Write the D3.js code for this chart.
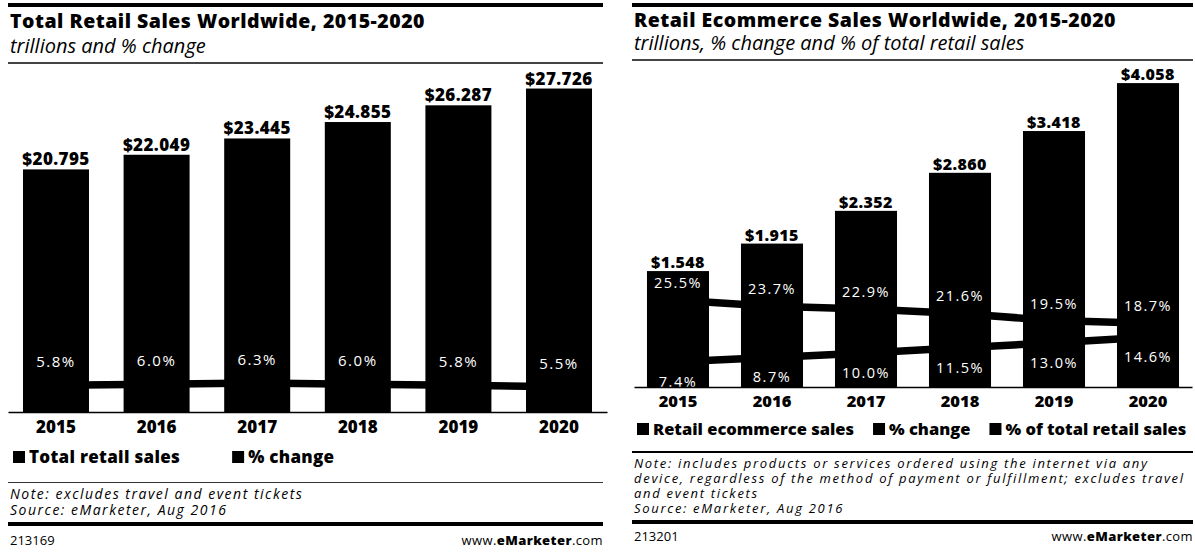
<!DOCTYPE html>
<html>
<head>
<meta charset="utf-8">
<script src="https://cdn.jsdelivr.net/npm/d3@7"></script>
<style>
  body { margin: 0; background: #fff; }
  text { font-family: "Open Sans", "DejaVu Sans", sans-serif; fill: #000; }
</style>
</head>
<body>
<svg id="chart" width="1195" height="554"></svg>
<script>
// ---- data ----
const years = ["2015", "2016", "2017", "2018", "2019", "2020"];

// Total retail sales worldwide, trillions of dollars, and % change
const totalRetailSales = [20.795, 22.049, 23.445, 24.855, 26.287, 27.726];
const totalRetailChange = [5.8, 6.0, 6.3, 6.0, 5.8, 5.5];

// Retail ecommerce sales worldwide, trillions, % change and % of total retail
const ecommerceSales = [1.548, 1.915, 2.352, 2.860, 3.418, 4.058];
const ecommerceChange = [25.5, 23.7, 22.9, 21.6, 19.5, 18.7];
const ecommerceShare = [7.4, 8.7, 10.0, 11.5, 13.0, 14.6];

const leftLegend = ["Total retail sales", "% change"];
const rightLegend = ["Retail ecommerce sales", "% change", "% of total retail sales"];

const leftNotes = ["Note: excludes travel and event tickets", "Source: eMarketer, Aug 2016"];
const rightNotes = [
  "Note: includes products or services ordered using the internet via any",
  "device, regardless of the method of payment or fulfillment; excludes travel",
  "and event tickets",
  "Source: eMarketer, Aug 2016"
];

const svg = d3.select("#chart");
svg.append("rect").attr("width", 1195).attr("height", 554).attr("fill", "#fff");

const fmtMoney = v => "$" + v.toFixed(3);
const fmtPct = v => v.toFixed(1) + "%";

function drawPanel(p) {
  const g = svg.append("g");

  // header rules and titles
  g.append("rect").attr("x", p.left).attr("y", 3).attr("width", p.right - p.left).attr("height", 4).attr("fill", "#000");
  g.append("text").attr("x", p.left + 2).attr("y", p.titleY)
    .attr("font-size", 19.5).attr("font-weight", 800).attr("letter-spacing", 0.5).text(p.title);
  g.append("text").attr("x", p.left + 2).attr("y", p.subY)
    .attr("font-size", 20).attr("font-style", "italic").text(p.subtitle);
  g.append("rect").attr("x", p.left).attr("y", p.ruleY).attr("width", p.right - p.left).attr("height", 2).attr("fill", "#444");

  // scales
  const x = d3.scaleBand().domain(years).range(p.xRange)
    .paddingInner(p.padIn).paddingOuter(p.padOut);
  const y = d3.scaleLinear().domain(p.yDomain).range([p.baseY, p.topY]);
  const yp = d3.scaleLinear().domain(p.pctDomain).range([p.baseY, p.topY]);
  const cx = yr => x(yr) + x.bandwidth() / 2;

  // bars
  g.selectAll("rect.bar").data(p.bars).join("rect")
    .attr("class", "bar")
    .attr("x", (d, i) => x(years[i]))
    .attr("y", d => y(d))
    .attr("width", x.bandwidth())
    .attr("height", d => y(0) - y(d))
    .attr("fill", "#000");

  // bar value labels
  g.selectAll("text.val").data(p.bars).join("text")
    .attr("class", "val")
    .attr("x", (d, i) => cx(years[i]))
    .attr("y", d => y(d) - p.valGap)
    .attr("text-anchor", "middle")
    .attr("font-size", p.valSize).attr("font-weight", 800).attr("letter-spacing", 0.4)
    .text(fmtMoney);

  // percentage lines and their labels
  p.lines.forEach(s => {
    const pts = s.values.map((v, i) => [cx(years[i]), yp(v)]);
    g.append("path")
      .attr("d", d3.line()(pts))
      .attr("fill", "none").attr("stroke", "#000")
      .attr("stroke-width", 7.5).attr("stroke-linejoin", "round");
    g.selectAll(null).data(s.values).join("text")
      .attr("x", (d, i) => cx(years[i]))
      .attr("y", d => yp(d) + s.labelDy)
      .attr("text-anchor", "middle")
      .attr("font-size", p.pctSize).attr("letter-spacing", 1.5)
      .style("fill", "#fff")
      .text(fmtPct);
  });

  // category axis
  const axis = g.append("g")
    .attr("transform", `translate(0,${p.baseY})`)
    .call(d3.axisBottom(x).tickSize(0).tickSizeOuter(0).tickPadding(p.tickPad));
  axis.select(".domain").attr("stroke", "#000").attr("stroke-width", 1.5);
  axis.selectAll(".tick text")
    .attr("font-size", p.yearSize).attr("font-weight", 800)
    .style("font-family", "\"Open Sans\", sans-serif").style("fill", "#000");

  // legend
  let lx = p.left + 5;
  p.legend.forEach(label => {
    g.append("rect").attr("x", lx).attr("y", p.legendY - 12).attr("width", 12).attr("height", 12).attr("fill", "#000");
    const t = g.append("text").attr("x", lx + 16).attr("y", p.legendY)
      .attr("font-size", p.legendSize).attr("font-weight", 800).attr("letter-spacing", p.legendSpacing).text(label);
    lx += 16 + t.node().getComputedTextLength() + p.legendGap;
  });

  // notes block
  g.append("rect").attr("x", p.left).attr("y", p.noteRuleY).attr("width", p.right - p.left)
    .attr("height", p.noteRuleH).attr("fill", p.noteRuleColor);
  p.notes.forEach((line, i) => {
    g.append("text").attr("x", p.left + 2).attr("y", p.noteY + i * p.noteStep)
      .attr("font-size", p.noteSize).attr("font-style", "italic").attr("letter-spacing", p.noteSpacing).text(line);
  });
  g.append("rect").attr("x", p.left).attr("y", p.footRuleY).attr("width", p.right - p.left)
    .attr("height", 4).attr("fill", "#000");

  // footer
  g.append("text").attr("x", p.left + 2).attr("y", p.footY).attr("font-size", 13).text(p.chartId);
  const site = g.append("text").attr("x", p.right).attr("y", p.footY)
    .attr("text-anchor", "end").attr("font-size", 13).attr("letter-spacing", 0.4);
  site.append("tspan").text("www.");
  site.append("tspan").attr("font-weight", 800).text("eMarketer");
  site.append("tspan").text(".com");
}

drawPanel({
  left: 8, right: 603,
  title: "Total Retail Sales Worldwide, 2015-2020",
  subtitle: "trillions and % change",
  titleY: 28, subY: 53, ruleY: 62,
  xRange: [8, 607], padIn: 0.344, padOut: 0.149,
  baseY: 412, topY: 62,
  yDomain: [0, 30], pctDomain: [0, 76],
  bars: totalRetailSales, valGap: 4, valSize: 17, pctSize: 15,
  lines: [{ values: totalRetailChange, labelDy: -18 }],
  tickPad: 9, yearSize: 17,
  legend: leftLegend, legendY: 463, legendSize: 17, legendSpacing: 0.3, legendGap: 52,
  notes: leftNotes, noteRuleY: 482, noteRuleH: 1, noteRuleColor: "#333",
  noteY: 499, noteStep: 16, noteSize: 14, noteSpacing: 1.5,
  footRuleY: 522, footY: 545, chartId: "213169"
});

drawPanel({
  left: 632, right: 1193,
  title: "Retail Ecommerce Sales Worldwide, 2015-2020",
  subtitle: "trillions, % change and % of total retail sales",
  titleY: 27, subY: 50, ruleY: 59,
  xRange: [634, 1192], padIn: 0.340, padOut: 0.138,
  baseY: 387, topY: 50,
  yDomain: [0, 4.5], pctDomain: [0, 99],
  bars: ecommerceSales, valGap: 3, valSize: 16, pctSize: 14.5,
  lines: [
    { values: ecommerceChange, labelDy: -12 },
    { values: ecommerceShare, labelDy: 25 }
  ],
  tickPad: 8, yearSize: 16.5,
  legend: rightLegend, legendY: 435, legendSize: 16.5, legendSpacing: 0, legendGap: 19,
  notes: rightNotes, noteRuleY: 451, noteRuleH: 2, noteRuleColor: "#000",
  noteY: 468, noteStep: 15, noteSize: 13, noteSpacing: 1.7,
  footRuleY: 520, footY: 541, chartId: "213201"
});
</script>
</body>
</html>
